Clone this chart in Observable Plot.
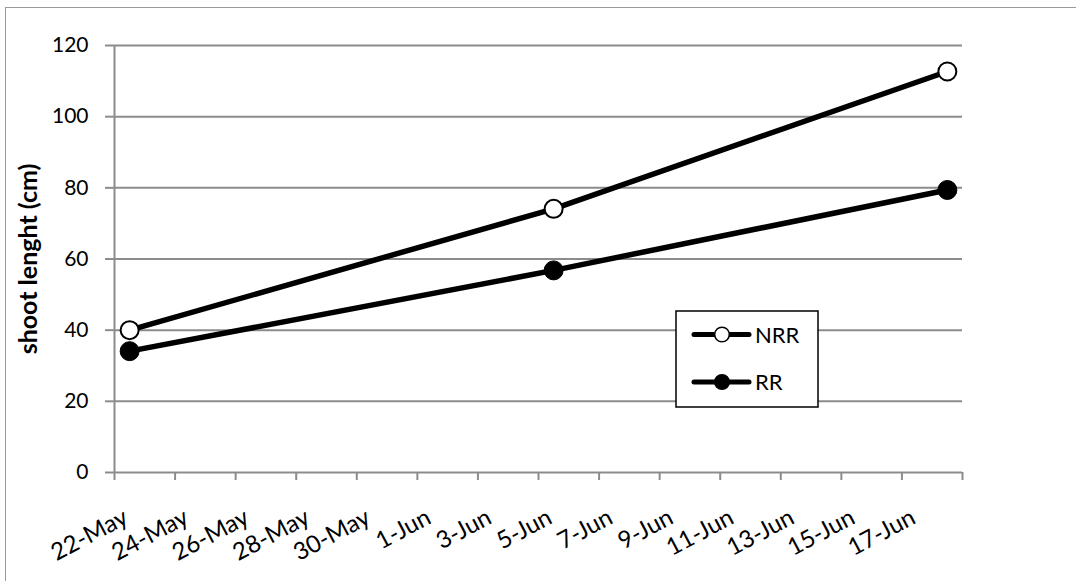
<!DOCTYPE html>
<html><head><meta charset="utf-8">
<script src="https://cdn.jsdelivr.net/npm/d3@7"></script>
<script src="https://cdn.jsdelivr.net/npm/@observablehq/plot@0.6"></script>
<style>
body{margin:0;background:#fff;}
#wrap{position:relative;width:1076px;height:581px;overflow:hidden;}
#frame{position:absolute;left:5px;top:7px;width:1100px;height:620px;border:1.5px solid #9a9a9a;box-sizing:border-box;}
#chart{position:absolute;left:0;top:0;}
#legend{position:absolute;left:0;top:0;}
</style></head><body>
<div id="wrap"><div id="frame"></div><div id="chart"></div><svg id="legend" width="1076" height="581"></svg></div>
<script>
// ---- data ----
const dates = ["2013-05-22", "2013-06-05", "2013-06-18"];
const NRR = [40, 74.1, 112.7];
const RR = [34.1, 56.8, 79.4];
const seriesNames = ["NRR", "RR"];
const yTicks = [0, 20, 40, 60, 80, 100, 120];
const xLabels = ["22-May","24-May","26-May","28-May","30-May","1-Jun","3-Jun","5-Jun","7-Jun","9-Jun","11-Jun","13-Jun","15-Jun","17-Jun"];
const yTitle = "shoot lenght (cm)";

// ---- derived ----
const parse = d3.utcParse("%Y-%m-%d");
const parseLabel = s => d3.utcParse("%d-%b-%Y")(s + "-2013");
const mid = d => d3.utcHour.offset(d, 12);
const rows = [];
dates.forEach((d, i) => {
  rows.push({date: mid(parse(d)), series: seriesNames[0], value: NRR[i]});
  rows.push({date: mid(parse(d)), series: seriesNames[1], value: RR[i]});
});
const x0 = parse(dates[0]);
const x1 = d3.utcDay.offset(parse(dates[dates.length - 1]), 1);
const tickDates = d3.utcDay.range(x0, d3.utcDay.offset(x1, 1), 2);
const labelDates = xLabels.map(s => mid(parseLabel(s)));

const gray = "#8c8c8c";
const font = "Lato, 'Open Sans', sans-serif";

const chart = Plot.plot({
  width: 1076, height: 581,
  marginLeft: 114, marginRight: 114, marginTop: 45, marginBottom: 109,
  style: {fontFamily: font, background: "transparent", overflow: "visible", color: "#000"},
  x: {type: "utc", domain: [x0, x1]},
  y: {domain: [0, 120]},
  marks: [
    Plot.gridY(yTicks, {stroke: gray, strokeOpacity: 1, strokeWidth: 2}),
    Plot.axisY({ticks: yTicks, tickSize: 9, tickPadding: 17, stroke: gray, strokeWidth: 2, fontSize: 21, label: null, tickFormat: d => d}),
    Plot.ruleX([x0], {stroke: gray, strokeWidth: 2}),
    Plot.axisX({ticks: tickDates, tickSize: 8, tickFormat: () => "", stroke: gray, strokeWidth: 2, label: null}),
    Plot.text(labelDates, {x: d => d, text: (d, i) => xLabels[i], frameAnchor: "bottom", dy: 50, rotate: -28, textAnchor: "end", lineAnchor: "bottom", fontSize: 24, fill: "#000"}),
    Plot.text([yTitle], {frameAnchor: "left", dx: -86, rotate: -90, textAnchor: "middle", lineAnchor: "middle", fontSize: 25, fontWeight: "bold", fill: "#000"}),
    Plot.line(rows, {x: "date", y: "value", z: "series", stroke: "#000", strokeWidth: 5.5}),
    Plot.dot(rows.filter(d => d.series === "NRR"), {x: "date", y: "value", r: 9, fill: "#fff", stroke: "#000", strokeWidth: 2}),
    Plot.dot(rows.filter(d => d.series === "RR"), {x: "date", y: "value", r: 9.5, fill: "#000", stroke: "#000", strokeWidth: 1})
  ]
});
document.getElementById("chart").appendChild(chart);

// ---- legend (inside plot area, like Excel) ----
const lg = d3.select("#legend").append("g").attr("transform", "translate(676,311)");
lg.append("rect").attr("width", 142).attr("height", 96).attr("fill", "#fff").attr("stroke", "#000").attr("stroke-width", 1.5);
seriesNames.forEach((name, i) => {
  const cy = 23.5 + i * 47.5;
  lg.append("line").attr("x1", 18).attr("x2", 73).attr("y1", cy).attr("y2", cy).attr("stroke", "#000").attr("stroke-width", 5).attr("stroke-linecap", "round");
  lg.append("circle").attr("cx", 46).attr("cy", cy).attr("r", 7.3)
    .attr("fill", i === 0 ? "#fff" : "#000").attr("stroke", "#000").attr("stroke-width", 1.5);
  lg.append("text").attr("x", 79).attr("y", cy + 8).attr("font-family", font).attr("font-size", 22).attr("fill", "#000").text(name);
});
</script>
</body></html>
